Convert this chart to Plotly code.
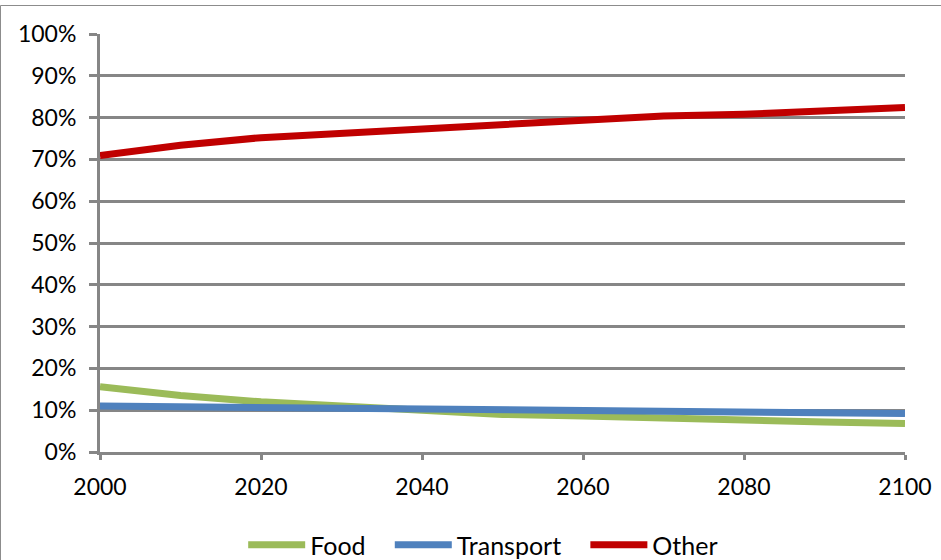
import plotly.graph_objects as go

# Share of spending by category, 2000-2100 (percent)
years = [2000, 2010, 2020, 2030, 2040, 2050, 2060, 2070, 2080, 2090, 2100]
food = [15.6, 13.5, 12.0, 11.0, 10.0, 9.0, 8.6, 8.0, 7.6, 7.2, 6.8]
transport = [11.0, 10.8, 10.6, 10.5, 10.3, 10.0, 10.0, 9.6, 9.6, 9.6, 9.2]
other = [70.9, 73.4, 75.2, 76.2, 77.6, 78.6, 79.5, 80.4, 80.8, 81.8, 82.4]

series_names = ["Food", "Transport", "Other"]
series_values = [food, transport, other]
series_colors = ["#9BBB59", "#4F81BD", "#C00000"]

grid_color = "#868686"
font_family = "Lato, 'Open Sans', sans-serif"
legend_pad = "\u00a0\u00a0\u00a0"  # extra room between legend entries

fig = go.Figure()
for i, (name, vals, color) in enumerate(zip(series_names, series_values, series_colors)):
    label = name + (legend_pad if i < len(series_names) - 1 else "")
    fig.add_trace(go.Scatter(
        x=years, y=vals, name=label, mode="lines",
        line=dict(color=color, width=7),
        hoverinfo="skip",
    ))

W, H = 941, 560
ml, mr, mt, mb = 100, 36, 34, 108

fig.update_layout(
    width=W, height=H,
    margin=dict(l=ml, r=mr, t=mt, b=mb, pad=0, autoexpand=False),
    paper_bgcolor="white", plot_bgcolor="white",
    font=dict(family=font_family, size=23, color="black"),
    showlegend=True,
    legend=dict(
        orientation="h", x=0.476, xanchor="center",
        yref="container", y=15 / H, yanchor="middle",
        font=dict(size=25, color="black"),
        itemwidth=57, tracegroupgap=0,
        bgcolor="rgba(0,0,0,0)",
    ),
    xaxis=dict(
        range=[2000, 2100], dtick=20, tick0=2000,
        showgrid=False, zeroline=False,
        showline=True, linecolor=grid_color, linewidth=3,
        ticks="outside", ticklen=5, tickwidth=3, tickcolor=grid_color,
        ticklabelstandoff=7,
        tickfont=dict(size=23, color="black"),
    ),
    yaxis=dict(
        range=[0, 100], dtick=10, tick0=0, ticksuffix="%",
        showgrid=True, gridcolor=grid_color, gridwidth=3,
        zeroline=False,
        showline=True, linecolor=grid_color, linewidth=3,
        ticks="outside", ticklen=8, tickwidth=3, tickcolor=grid_color,
        ticklabelstandoff=8,
        tickfont=dict(size=23, color="black"),
    ),
)

# Outer chart frame (left and top edges visible inside the window)
pw = W - ml - mr
ph = H - mt - mb
def px_to_paper_x(px):
    return (px - ml) / pw
def px_to_paper_y(py):
    return (H - mb - py) / ph

fig.add_shape(type="line", xref="paper", yref="paper",
              x0=px_to_paper_x(0.5), x1=px_to_paper_x(0.5),
              y0=px_to_paper_y(5.5), y1=px_to_paper_y(H + 5),
              line=dict(color="#8C8C8C", width=1), layer="above")
fig.add_shape(type="line", xref="paper", yref="paper",
              x0=px_to_paper_x(0.5), x1=px_to_paper_x(W + 5),
              y0=px_to_paper_y(5.5), y1=px_to_paper_y(5.5),
              line=dict(color="#8C8C8C", width=1), layer="above")

fig.write_html("out.html")
